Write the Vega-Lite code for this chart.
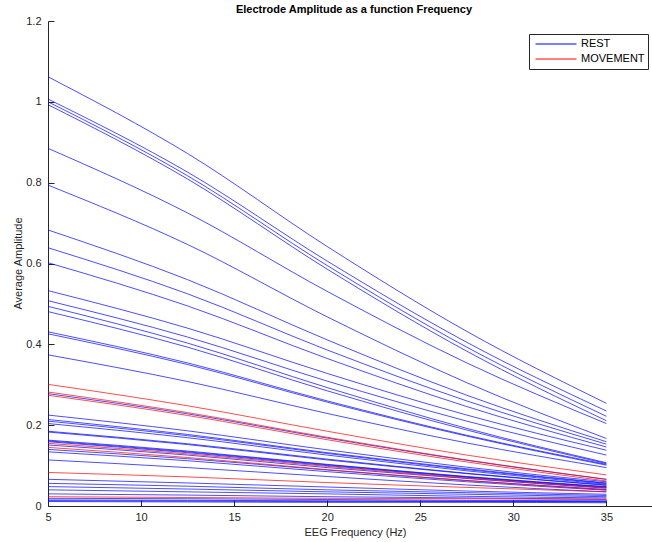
{
  "$schema": "https://vega.github.io/schema/vega-lite/v6.json",
  "width": 604,
  "height": 485,
  "autosize": {"type": "none"},
  "padding": {"left": 48, "top": 21, "right": 0, "bottom": 36},
  "background": "white",
  "title": {
    "text": "Electrode Amplitude as a function Frequency",
    "font": "Liberation Sans",
    "fontSize": 11,
    "fontWeight": "bold",
    "color": "#000000",
    "anchor": "middle",
    "frame": "group",
    "baseline": "alphabetic",
    "offset": 4,
    "dx": 4,
    "dy": 13
  },
  "data": {
    "values": [
      {"line":"R1","cond":"REST","f":5,"v":1.062},{"line":"R1","cond":"REST","f":12.5,"v":0.872},{"line":"R1","cond":"REST","f":20,"v":0.642},{"line":"R1","cond":"REST","f":27.5,"v":0.432},{"line":"R1","cond":"REST","f":35,"v":0.254},
      {"line":"R2","cond":"REST","f":5,"v":1.007},{"line":"R2","cond":"REST","f":12.5,"v":0.826},{"line":"R2","cond":"REST","f":20,"v":0.606},{"line":"R2","cond":"REST","f":27.5,"v":0.405},{"line":"R2","cond":"REST","f":35,"v":0.235},
      {"line":"R3","cond":"REST","f":5,"v":1.000},{"line":"R3","cond":"REST","f":12.5,"v":0.817},{"line":"R3","cond":"REST","f":20,"v":0.595},{"line":"R3","cond":"REST","f":27.5,"v":0.393},{"line":"R3","cond":"REST","f":35,"v":0.222},
      {"line":"R4","cond":"REST","f":5,"v":0.993},{"line":"R4","cond":"REST","f":12.5,"v":0.809},{"line":"R4","cond":"REST","f":20,"v":0.586},{"line":"R4","cond":"REST","f":27.5,"v":0.383},{"line":"R4","cond":"REST","f":35,"v":0.211},
      {"line":"R5","cond":"REST","f":5,"v":0.885},{"line":"R5","cond":"REST","f":12.5,"v":0.725},{"line":"R5","cond":"REST","f":20,"v":0.531},{"line":"R5","cond":"REST","f":27.5,"v":0.354},{"line":"R5","cond":"REST","f":35,"v":0.204},
      {"line":"R6","cond":"REST","f":5,"v":0.794},{"line":"R6","cond":"REST","f":12.5,"v":0.647},{"line":"R6","cond":"REST","f":20,"v":0.468},{"line":"R6","cond":"REST","f":27.5,"v":0.305},{"line":"R6","cond":"REST","f":35,"v":0.167},
      {"line":"R7","cond":"REST","f":5,"v":0.683},{"line":"R7","cond":"REST","f":12.5,"v":0.560},{"line":"R7","cond":"REST","f":20,"v":0.411},{"line":"R7","cond":"REST","f":27.5,"v":0.274},{"line":"R7","cond":"REST","f":35,"v":0.159},
      {"line":"R8","cond":"REST","f":5,"v":0.639},{"line":"R8","cond":"REST","f":12.5,"v":0.525},{"line":"R8","cond":"REST","f":20,"v":0.386},{"line":"R8","cond":"REST","f":27.5,"v":0.260},{"line":"R8","cond":"REST","f":35,"v":0.153},
      {"line":"R9","cond":"REST","f":5,"v":0.602},{"line":"R9","cond":"REST","f":12.5,"v":0.495},{"line":"R9","cond":"REST","f":20,"v":0.365},{"line":"R9","cond":"REST","f":27.5,"v":0.246},{"line":"R9","cond":"REST","f":35,"v":0.146},
      {"line":"R10","cond":"REST","f":5,"v":0.533},{"line":"R10","cond":"REST","f":12.5,"v":0.440},{"line":"R10","cond":"REST","f":20,"v":0.328},{"line":"R10","cond":"REST","f":27.5,"v":0.225},{"line":"R10","cond":"REST","f":35,"v":0.138},
      {"line":"R11","cond":"REST","f":5,"v":0.508},{"line":"R11","cond":"REST","f":12.5,"v":0.418},{"line":"R11","cond":"REST","f":20,"v":0.309},{"line":"R11","cond":"REST","f":27.5,"v":0.210},{"line":"R11","cond":"REST","f":35,"v":0.126},
      {"line":"R12","cond":"REST","f":5,"v":0.494},{"line":"R12","cond":"REST","f":12.5,"v":0.403},{"line":"R12","cond":"REST","f":20,"v":0.293},{"line":"R12","cond":"REST","f":27.5,"v":0.192},{"line":"R12","cond":"REST","f":35,"v":0.107},
      {"line":"R13","cond":"REST","f":5,"v":0.481},{"line":"R13","cond":"REST","f":12.5,"v":0.393},{"line":"R13","cond":"REST","f":20,"v":0.285},{"line":"R13","cond":"REST","f":27.5,"v":0.188},{"line":"R13","cond":"REST","f":35,"v":0.105},
      {"line":"R14","cond":"REST","f":5,"v":0.431},{"line":"R14","cond":"REST","f":12.5,"v":0.354},{"line":"R14","cond":"REST","f":20,"v":0.260},{"line":"R14","cond":"REST","f":27.5,"v":0.175},{"line":"R14","cond":"REST","f":35,"v":0.103},
      {"line":"R15","cond":"REST","f":5,"v":0.426},{"line":"R15","cond":"REST","f":12.5,"v":0.350},{"line":"R15","cond":"REST","f":20,"v":0.257},{"line":"R15","cond":"REST","f":27.5,"v":0.173},{"line":"R15","cond":"REST","f":35,"v":0.101},
      {"line":"R16","cond":"REST","f":5,"v":0.374},{"line":"R16","cond":"REST","f":12.5,"v":0.308},{"line":"R16","cond":"REST","f":20,"v":0.229},{"line":"R16","cond":"REST","f":27.5,"v":0.156},{"line":"R16","cond":"REST","f":35,"v":0.095},
      {"line":"R17","cond":"REST","f":5,"v":0.278},{"line":"R17","cond":"REST","f":12.5,"v":0.228},{"line":"R17","cond":"REST","f":20,"v":0.168},{"line":"R17","cond":"REST","f":27.5,"v":0.113},{"line":"R17","cond":"REST","f":35,"v":0.066},
      {"line":"R18","cond":"REST","f":5,"v":0.225},{"line":"R18","cond":"REST","f":12.5,"v":0.186},{"line":"R18","cond":"REST","f":20,"v":0.139},{"line":"R18","cond":"REST","f":27.5,"v":0.096},{"line":"R18","cond":"REST","f":35,"v":0.060},
      {"line":"R19","cond":"REST","f":5,"v":0.214},{"line":"R19","cond":"REST","f":12.5,"v":0.177},{"line":"R19","cond":"REST","f":20,"v":0.132},{"line":"R19","cond":"REST","f":27.5,"v":0.092},{"line":"R19","cond":"REST","f":35,"v":0.057},
      {"line":"R20","cond":"REST","f":5,"v":0.210},{"line":"R20","cond":"REST","f":12.5,"v":0.174},{"line":"R20","cond":"REST","f":20,"v":0.130},{"line":"R20","cond":"REST","f":27.5,"v":0.090},{"line":"R20","cond":"REST","f":35,"v":0.056},
      {"line":"R21","cond":"REST","f":5,"v":0.204},{"line":"R21","cond":"REST","f":12.5,"v":0.169},{"line":"R21","cond":"REST","f":20,"v":0.126},{"line":"R21","cond":"REST","f":27.5,"v":0.087},{"line":"R21","cond":"REST","f":35,"v":0.054},
      {"line":"R22","cond":"REST","f":5,"v":0.185},{"line":"R22","cond":"REST","f":12.5,"v":0.154},{"line":"R22","cond":"REST","f":20,"v":0.116},{"line":"R22","cond":"REST","f":27.5,"v":0.081},{"line":"R22","cond":"REST","f":35,"v":0.052},
      {"line":"R23","cond":"REST","f":5,"v":0.183},{"line":"R23","cond":"REST","f":12.5,"v":0.152},{"line":"R23","cond":"REST","f":20,"v":0.114},{"line":"R23","cond":"REST","f":27.5,"v":0.080},{"line":"R23","cond":"REST","f":35,"v":0.051},
      {"line":"R24","cond":"REST","f":5,"v":0.163},{"line":"R24","cond":"REST","f":12.5,"v":0.136},{"line":"R24","cond":"REST","f":20,"v":0.103},{"line":"R24","cond":"REST","f":27.5,"v":0.073},{"line":"R24","cond":"REST","f":35,"v":0.048},
      {"line":"R25","cond":"REST","f":5,"v":0.161},{"line":"R25","cond":"REST","f":12.5,"v":0.134},{"line":"R25","cond":"REST","f":20,"v":0.102},{"line":"R25","cond":"REST","f":27.5,"v":0.072},{"line":"R25","cond":"REST","f":35,"v":0.047},
      {"line":"R26","cond":"REST","f":5,"v":0.159},{"line":"R26","cond":"REST","f":12.5,"v":0.132},{"line":"R26","cond":"REST","f":20,"v":0.100},{"line":"R26","cond":"REST","f":27.5,"v":0.071},{"line":"R26","cond":"REST","f":35,"v":0.046},
      {"line":"R27","cond":"REST","f":5,"v":0.151},{"line":"R27","cond":"REST","f":12.5,"v":0.126},{"line":"R27","cond":"REST","f":20,"v":0.095},{"line":"R27","cond":"REST","f":27.5,"v":0.068},{"line":"R27","cond":"REST","f":35,"v":0.044},
      {"line":"R28","cond":"REST","f":5,"v":0.140},{"line":"R28","cond":"REST","f":12.5,"v":0.117},{"line":"R28","cond":"REST","f":20,"v":0.089},{"line":"R28","cond":"REST","f":27.5,"v":0.063},{"line":"R28","cond":"REST","f":35,"v":0.041},
      {"line":"R29","cond":"REST","f":5,"v":0.134},{"line":"R29","cond":"REST","f":12.5,"v":0.112},{"line":"R29","cond":"REST","f":20,"v":0.085},{"line":"R29","cond":"REST","f":27.5,"v":0.060},{"line":"R29","cond":"REST","f":35,"v":0.039},
      {"line":"R30","cond":"REST","f":5,"v":0.114},{"line":"R30","cond":"REST","f":12.5,"v":0.095},{"line":"R30","cond":"REST","f":20,"v":0.073},{"line":"R30","cond":"REST","f":27.5,"v":0.052},{"line":"R30","cond":"REST","f":35,"v":0.035},
      {"line":"R31","cond":"REST","f":5,"v":0.066},{"line":"R31","cond":"REST","f":12.5,"v":0.057},{"line":"R31","cond":"REST","f":20,"v":0.047},{"line":"R31","cond":"REST","f":27.5,"v":0.037},{"line":"R31","cond":"REST","f":35,"v":0.029},
      {"line":"R32","cond":"REST","f":5,"v":0.056},{"line":"R32","cond":"REST","f":12.5,"v":0.049},{"line":"R32","cond":"REST","f":20,"v":0.040},{"line":"R32","cond":"REST","f":27.5,"v":0.033},{"line":"R32","cond":"REST","f":35,"v":0.026},
      {"line":"R33","cond":"REST","f":5,"v":0.048},{"line":"R33","cond":"REST","f":12.5,"v":0.042},{"line":"R33","cond":"REST","f":20,"v":0.035},{"line":"R33","cond":"REST","f":27.5,"v":0.029},{"line":"R33","cond":"REST","f":35,"v":0.023},
      {"line":"R34","cond":"REST","f":5,"v":0.040},{"line":"R34","cond":"REST","f":12.5,"v":0.035},{"line":"R34","cond":"REST","f":20,"v":0.030},{"line":"R34","cond":"REST","f":27.5,"v":0.024},{"line":"R34","cond":"REST","f":35,"v":0.020},
      {"line":"R35","cond":"REST","f":5,"v":0.030},{"line":"R35","cond":"REST","f":12.5,"v":0.027},{"line":"R35","cond":"REST","f":20,"v":0.023},{"line":"R35","cond":"REST","f":27.5,"v":0.020},{"line":"R35","cond":"REST","f":35,"v":0.017},
      {"line":"R36","cond":"REST","f":5,"v":0.019},{"line":"R36","cond":"REST","f":12.5,"v":0.018},{"line":"R36","cond":"REST","f":20,"v":0.016},{"line":"R36","cond":"REST","f":27.5,"v":0.014},{"line":"R36","cond":"REST","f":35,"v":0.013},
      {"line":"R37","cond":"REST","f":5,"v":0.015},{"line":"R37","cond":"REST","f":12.5,"v":0.014},{"line":"R37","cond":"REST","f":20,"v":0.013},{"line":"R37","cond":"REST","f":27.5,"v":0.012},{"line":"R37","cond":"REST","f":35,"v":0.011},
      {"line":"R38","cond":"REST","f":5,"v":0.013},{"line":"R38","cond":"REST","f":12.5,"v":0.012},{"line":"R38","cond":"REST","f":20,"v":0.011},{"line":"R38","cond":"REST","f":27.5,"v":0.011},{"line":"R38","cond":"REST","f":35,"v":0.010},
      {"line":"R39","cond":"REST","f":5,"v":0.011},{"line":"R39","cond":"REST","f":12.5,"v":0.010},{"line":"R39","cond":"REST","f":20,"v":0.009},{"line":"R39","cond":"REST","f":27.5,"v":0.009},{"line":"R39","cond":"REST","f":35,"v":0.008},
      {"line":"M1","cond":"MOVEMENT","f":5,"v":0.301},{"line":"M1","cond":"MOVEMENT","f":12.5,"v":0.248},{"line":"M1","cond":"MOVEMENT","f":20,"v":0.185},{"line":"M1","cond":"MOVEMENT","f":27.5,"v":0.126},{"line":"M1","cond":"MOVEMENT","f":35,"v":0.077},
      {"line":"M2","cond":"MOVEMENT","f":5,"v":0.282},{"line":"M2","cond":"MOVEMENT","f":12.5,"v":0.231},{"line":"M2","cond":"MOVEMENT","f":20,"v":0.170},{"line":"M2","cond":"MOVEMENT","f":27.5,"v":0.114},{"line":"M2","cond":"MOVEMENT","f":35,"v":0.066},
      {"line":"M3","cond":"MOVEMENT","f":5,"v":0.274},{"line":"M3","cond":"MOVEMENT","f":12.5,"v":0.224},{"line":"M3","cond":"MOVEMENT","f":20,"v":0.164},{"line":"M3","cond":"MOVEMENT","f":27.5,"v":0.109},{"line":"M3","cond":"MOVEMENT","f":35,"v":0.062},
      {"line":"M4","cond":"MOVEMENT","f":5,"v":0.155},{"line":"M4","cond":"MOVEMENT","f":12.5,"v":0.129},{"line":"M4","cond":"MOVEMENT","f":20,"v":0.098},{"line":"M4","cond":"MOVEMENT","f":27.5,"v":0.069},{"line":"M4","cond":"MOVEMENT","f":35,"v":0.045},
      {"line":"M5","cond":"MOVEMENT","f":5,"v":0.145},{"line":"M5","cond":"MOVEMENT","f":12.5,"v":0.120},{"line":"M5","cond":"MOVEMENT","f":20,"v":0.090},{"line":"M5","cond":"MOVEMENT","f":27.5,"v":0.063},{"line":"M5","cond":"MOVEMENT","f":35,"v":0.040},
      {"line":"M6","cond":"MOVEMENT","f":5,"v":0.083},{"line":"M6","cond":"MOVEMENT","f":12.5,"v":0.072},{"line":"M6","cond":"MOVEMENT","f":20,"v":0.058},{"line":"M6","cond":"MOVEMENT","f":27.5,"v":0.046},{"line":"M6","cond":"MOVEMENT","f":35,"v":0.035},
      {"line":"M7","cond":"MOVEMENT","f":5,"v":0.023},{"line":"M7","cond":"MOVEMENT","f":12.5,"v":0.021},{"line":"M7","cond":"MOVEMENT","f":20,"v":0.019},{"line":"M7","cond":"MOVEMENT","f":27.5,"v":0.018},{"line":"M7","cond":"MOVEMENT","f":35,"v":0.016}
    ]
  },
  "encoding": {
    "x": {
      "field": "f", "type": "quantitative",
      "scale": {"domain": [5, 37.45], "nice": false, "zero": false},
      "axis": {
        "title": "EEG Frequency (Hz)",
        "values": [5, 10, 15, 20, 25, 30, 35],
        "labelPadding": 11,
        "titleX": 307, "titleY": 29.5, "titleBaseline": "alphabetic", "titleAnchor": null
      }
    },
    "y": {
      "field": "v", "type": "quantitative",
      "scale": {"domain": [0, 1.2], "nice": false},
      "axis": {
        "title": "Average Amplitude",
        "values": [0, 0.2, 0.4, 0.6, 0.8, 1, 1.2],
        "format": "~g",
        "labelPadding": 13,
        "titleX": -27, "titleY": 242, "titleBaseline": "alphabetic", "titleAngle": -90
      }
    },
    "color": {
      "field": "cond", "type": "nominal",
      "scale": {"domain": ["REST", "MOVEMENT"], "range": ["#0000ff", "#ff0000"]},
      "legend": {"title": null}
    },
    "detail": {"field": "line", "type": "nominal"}
  },
  "layer": [
    {
      "transform": [{"filter": "datum.cond === 'REST'"}],
      "mark": {"type": "line", "interpolate": "monotone", "strokeWidth": 0.7}
    },
    {
      "transform": [{"filter": "datum.cond === 'MOVEMENT'"}],
      "mark": {"type": "line", "interpolate": "monotone", "strokeWidth": 0.7}
    }
  ],
  "config": {
    "view": {"stroke": null},
    "axis": {
      "grid": false,
      "domainColor": "#262626",
      "domainWidth": 1,
      "tickColor": "#262626",
      "tickSize": -6,
      "tickWidth": 1,
      "labelColor": "#262626",
      "labelFont": "Liberation Sans",
      "labelFontSize": 11,
      "labelFlush": false,
      "labelOverlap": false,
      "titleColor": "#262626",
      "titleFont": "Liberation Sans",
      "titleFontSize": 11,
      "titleFontWeight": "normal"
    },
    "legend": {
      "orient": "none",
      "legendX": 481,
      "legendY": 13,
      "strokeColor": "#262626",
      "fillColor": "white",
      "padding": 3,
      "symbolOffset": 3,
      "symbolType": "stroke",
      "symbolSize": 1681,
      "symbolStrokeWidth": 1,
      "clipHeight": 14,
      "labelFont": "Liberation Sans",
      "labelFontSize": 11,
      "labelColor": "#000000",
      "labelOffset": 4,
      "rowPadding": 1
    }
  }
}
